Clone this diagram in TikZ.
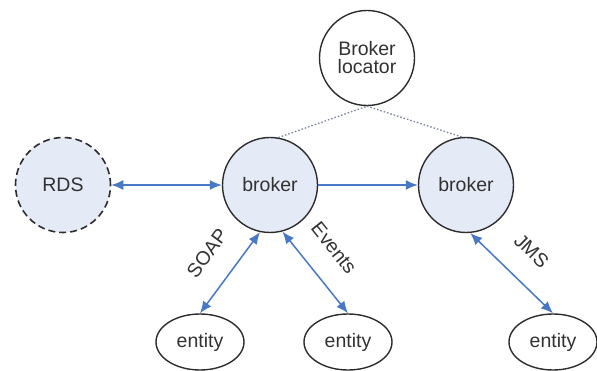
\documentclass[tikz,border=0pt]{standalone}
\usepackage{fontspec}
\setmainfont{Liberation Sans}
\usetikzlibrary{shapes.geometric,arrows.meta}

\definecolor{nodefill}{RGB}{228,234,246}
\definecolor{linkblue}{RGB}{72,120,196}
\definecolor{dotgray}{RGB}{120,130,158}
\definecolor{rim}{RGB}{45,45,45}
\definecolor{txt}{RGB}{50,50,50}

\begin{document}
\begin{tikzpicture}[x=1pt,y=-1pt,
  font=\fontsize{19.5}{21}\selectfont, text=txt,
  bluetip/.tip={Latex[length=12pt,width=10pt]},
  host/.style={circle,draw=rim,line width=1.4pt,minimum size=95pt,inner sep=0pt,align=center},
  leaf/.style={ellipse,draw=rim,line width=1.4pt,minimum width=88pt,minimum height=56pt,inner sep=0pt},
  link/.style={draw=linkblue,line width=1.5pt,bluetip-bluetip},
  tag/.style={sloped,above=19pt}]
\useasboundingbox (0,0) rectangle (597,371);

\node[host,fill=nodefill,dashed,dash pattern=on 7pt off 4pt,line width=1.6pt] (rds) at (63,185) {RDS};
\node[host,fill=nodefill] (b1) at (270,185) {broker};
\node[host,fill=nodefill] (b2) at (466,185) {broker};
\node[host,fill=white] (loc) at (367,58) {Broker\\[-3pt]locator};

\node[leaf] (e1) at (200,342) {entity};
\node[leaf] (e2) at (348,342) {entity};
\node[leaf] (e3) at (553,342) {entity};

\draw[dotgray,line width=1.3pt,dash pattern=on 1.5pt off 2pt] (b1.80) to (loc.south);
\draw[dotgray,line width=1.3pt,dash pattern=on 1.5pt off 2pt] (loc.south) to (b2.95);

\draw[link] (rds) to (b1);
\draw[link,-bluetip] (b1) to (b2);

\draw[link] (e1.north) to node[tag,pos=0.52] (soap) {SOAP} (b1.258);
\draw[link] (b1.285) to node[tag,pos=0.43] (events) {Events} (e2.north);
\draw[link] (b2.275) to node[tag,pos=0.49] (jms) {JMS} (e3.north);
\end{tikzpicture}
\end{document}
